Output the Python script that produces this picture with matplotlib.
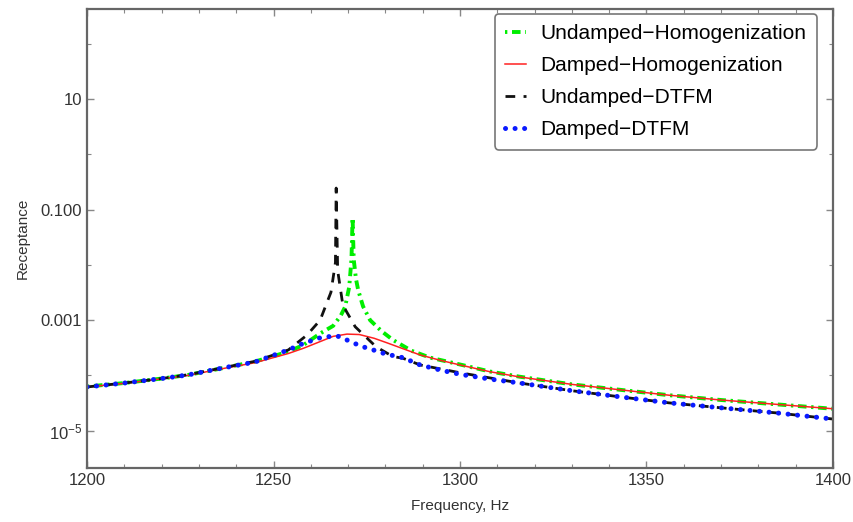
import matplotlib
matplotlib.use("Agg")
import matplotlib.pyplot as plt
from matplotlib.ticker import FixedLocator, FixedFormatter, MultipleLocator, NullFormatter

plt.rcParams['font.family'] = ['Liberation Sans', 'DejaVu Sans']
plt.rcParams['mathtext.fontset'] = 'custom'
plt.rcParams['mathtext.rm'] = 'Liberation Sans'
plt.rcParams['mathtext.it'] = 'Liberation Sans:italic'
plt.rcParams['mathtext.bf'] = 'Liberation Sans:bold'

# Undamped - Homogenization (green)
f_uh = [1200, 1210, 1220, 1227, 1235, 1245, 1254, 1258, 1262.5, 1266, 1268, 1269.2,
        1270.3, 1270.9, 1271.2, 1271.5, 1272.1, 1272.7, 1274, 1275.9, 1279, 1282,
        1287, 1292, 1300, 1308, 1316, 1330, 1343, 1356, 1370, 1385, 1400]
r_uh = [6.3e-5, 7.3e-5, 8.8e-5, 1.02e-4, 1.30e-4, 1.78e-4, 2.7e-4, 3.55e-4, 5.75e-4,
        7.9e-4, 1.2e-3, 1.74e-3, 4.0e-3, 1.26e-2, 7.1e-2, 1.26e-2, 5.6e-3, 3.5e-3,
        1.78e-3, 1.0e-3, 6.3e-4, 4.4e-4, 2.8e-4, 2.1e-4, 1.58e-4, 1.18e-4, 9.5e-5,
        6.9e-5, 5.5e-5, 4.4e-5, 3.6e-5, 3.0e-5, 2.5e-5]

# Damped - Homogenization (red)
f_dh = [1200, 1210, 1220, 1227, 1235, 1245, 1254, 1258, 1262.5, 1266, 1269.7, 1273,
        1277, 1280.4, 1285, 1289.3, 1295, 1300, 1308, 1316, 1330, 1343, 1356, 1370,
        1385, 1400]
r_dh = [6.2e-5, 7.2e-5, 8.7e-5, 1.0e-4, 1.28e-4, 1.70e-4, 2.5e-4, 3.1e-4, 4.1e-4,
        5.1e-4, 5.6e-4, 5.5e-4, 4.7e-4, 3.9e-4, 3.0e-4, 2.35e-4, 1.86e-4, 1.55e-4,
        1.17e-4, 9.4e-5, 6.9e-5, 5.5e-5, 4.4e-5, 3.6e-5, 3.0e-5, 2.5e-5]

# Undamped - DTFM (black)
f_ud = [1200, 1210, 1220, 1227, 1235, 1245, 1254, 1259, 1262.5, 1265.4, 1266.6, 1266.8,
        1267.2, 1268.6, 1271.9, 1277.5, 1282, 1284.7, 1289.3, 1300, 1316, 1330, 1343,
        1356, 1370, 1385, 1400]
r_ud = [6.2e-5, 7.3e-5, 8.8e-5, 1.03e-4, 1.32e-4, 1.80e-4, 2.9e-4, 5.4e-4, 1.0e-3,
        3.2e-3, 1.1e-2, 0.245, 7.9e-3, 1.86e-3, 7.6e-4, 3.3e-4, 2.2e-4, 2.05e-4,
        1.55e-4, 1.12e-4, 7.3e-5, 5.3e-5, 4.1e-5, 3.2e-5, 2.6e-5, 2.1e-5, 1.63e-5]

# Damped - DTFM (blue)
f_dd = [1200, 1210, 1220, 1227, 1235, 1245, 1254, 1258, 1262.5, 1264.3, 1267, 1269,
        1271.3, 1274, 1276.7, 1280, 1284.7, 1289.3, 1295, 1300, 1308, 1316, 1330,
        1343, 1356, 1370, 1385, 1400]
r_dd = [6.2e-5, 7.3e-5, 8.8e-5, 1.02e-4, 1.31e-4, 1.75e-4, 2.9e-4, 3.8e-4, 4.8e-4,
        5.0e-4, 5.2e-4, 4.6e-4, 3.9e-4, 3.3e-4, 2.9e-4, 2.45e-4, 2.1e-4, 1.55e-4,
        1.24e-4, 1.05e-4, 8.6e-5, 7.3e-5, 5.3e-5, 4.1e-5, 3.2e-5, 2.6e-5, 2.1e-5,
        1.63e-5]

ytick_vals = [1e-5, 1e-3, 1e-1, 10]
ytick_labels = [r'$10^{-5}$', '0.001', '0.100', '10']
xtick_vals = [1200, 1250, 1300, 1350, 1400]

fig = plt.figure(figsize=(8.54, 5.22), dpi=100)
ax = fig.add_axes([0.1019, 0.1034, 0.8735, 0.8794])

ax.plot(f_uh, r_uh, color='#00ee00', lw=2.8, linestyle=(0, (0.6, 1.2, 2.2, 1.2)),
        label='Undamped\u2212Homogenization')
ax.plot(f_dh, r_dh, color='#ff2020', lw=1.1, label='Damped\u2212Homogenization')
ax.plot(f_ud, r_ud, color='#111111', lw=2.0, linestyle=(0, (3.5, 3)),
        label='Undamped\u2212DTFM')
ax.plot(f_dd, r_dd, color='#0a1aff', lw=3.6, linestyle=(0, (0.01, 1.9)),
        dash_capstyle='round', label='Damped\u2212DTFM')

ax.set_yscale('log')
ax.set_xlim(1200, 1400)
ax.set_ylim(2.12e-6, 424)

ax.yaxis.set_major_locator(FixedLocator(ytick_vals))
ax.yaxis.set_major_formatter(FixedFormatter(ytick_labels))
ax.yaxis.set_minor_locator(FixedLocator([1e-4, 1e-2, 1, 100]))
ax.yaxis.set_minor_formatter(NullFormatter())
ax.set_xticks(xtick_vals)
ax.xaxis.set_minor_locator(MultipleLocator(10))

ax.tick_params(which='both', direction='in', top=True, right=True, color='#888888',
               labelcolor='#333333', labelsize=12)
ax.tick_params(which='major', length=5, width=1)
ax.tick_params(which='minor', length=3, width=0.8)
for s in ax.spines.values():
    s.set_color('#666666')
    s.set_linewidth(1.6)

ax.set_xlabel('Frequency, Hz', fontsize=11, color='#333333', labelpad=8)
ax.set_ylabel('Receptance', fontsize=11, color='#333333', labelpad=8)

leg = ax.legend(loc='upper right', bbox_to_anchor=(0.9786, 0.989), borderaxespad=0,
                fontsize=15, handlelength=1.0, handletextpad=0.7, labelspacing=0.62,
                borderpad=0.5, fancybox=True, edgecolor='#777777', framealpha=1)
leg.get_frame().set_linewidth(1.2)

plt.savefig('out.png', dpi=100)
